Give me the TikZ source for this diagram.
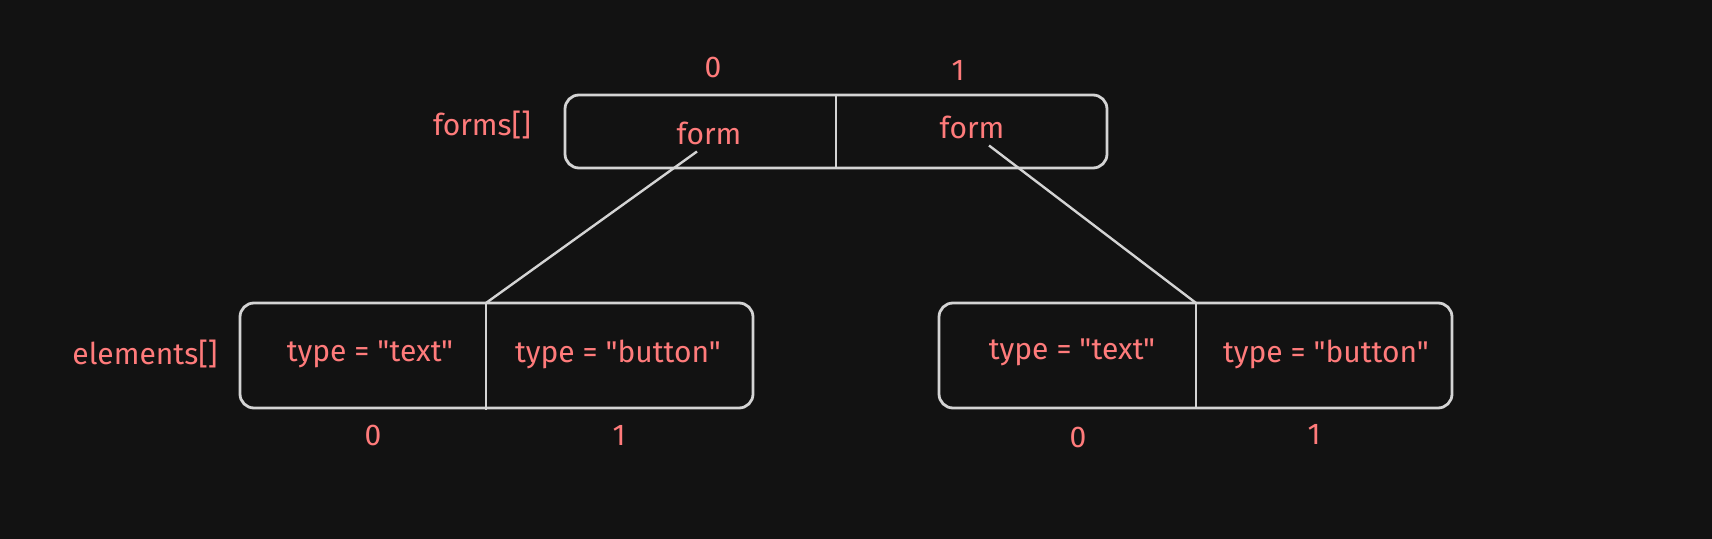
\documentclass[tikz,border=0pt]{standalone}
\usepackage{fontspec}
\setmainfont{Fira Sans}[Ligatures=TeXOff]
\definecolor{bg}{HTML}{121212}
\definecolor{ink}{HTML}{FF7B7B}
\definecolor{wire}{HTML}{D4D4D4}
\tikzset{
	arr/.style={draw=wire, line width=1.4pt, rounded corners=7pt, inner sep=0pt},
	lbl/.style={text=ink, font=\fontsize{15}{18}\selectfont},
	link/.style={draw=wire, line width=1.2pt}
}
\begin{document}
\begin{tikzpicture}
	[x=0.5pt, y=-0.5pt]
	\fill[bg] (0,0) rectangle (1712,539);
	% forms array
	\node[arr, minimum width=271pt, minimum height=36.5pt] (forms) at (836,131.5) {};
	\draw[wire, line width=1.2pt] (forms.north) -- (forms.south);
	\node[lbl] (fname) at (482,125) {forms[]};
	\node[lbl] (fi0) at (713,68) {0};
	\node[lbl] (fi1) at (958,70) {1};
	\node[lbl] (f0) at (709,133) {form};
	\node[lbl] (f1) at (972,127) {form};
	% elements of form 0
	\node[arr, minimum width=256.5pt, minimum height=52.5pt] (ea) at (496.5,355.5) {};
	\coordinate (atop) at (486,303);
	\draw[wire, line width=1.2pt] (atop) -- (486,410);
	\node[lbl] (ename) at (145,354) {elements[]};
	\node[lbl] (a0) at (370,354) {type = "text"};
	\node[lbl] (a1) at (618,354) {type = "button"};
	\node[lbl] (ai0) at (373,435) {0};
	\node[lbl] (ai1) at (619,435) {1};
	% elements of form 1
	\node[arr, minimum width=256.5pt, minimum height=52.5pt] (eb) at (1195.5,355.5) {};
	\coordinate (btop) at (1196,303);
	\draw[wire, line width=1.2pt] (btop) -- (1196,408);
	\node[lbl] (b0) at (1072,352) {type = "text"};
	\node[lbl] (b1) at (1326,354) {type = "button"};
	\node[lbl] (bi0) at (1078,437) {0};
	\node[lbl] (bi1) at (1314,434) {1};
	% links
	\draw[link] (f0.south) ++(-12,0) coordinate (fa) -- (atop);
	\draw[link] (f1.south) ++(17,0) coordinate (fb) -- (btop);
\end{tikzpicture}
\end{document}
